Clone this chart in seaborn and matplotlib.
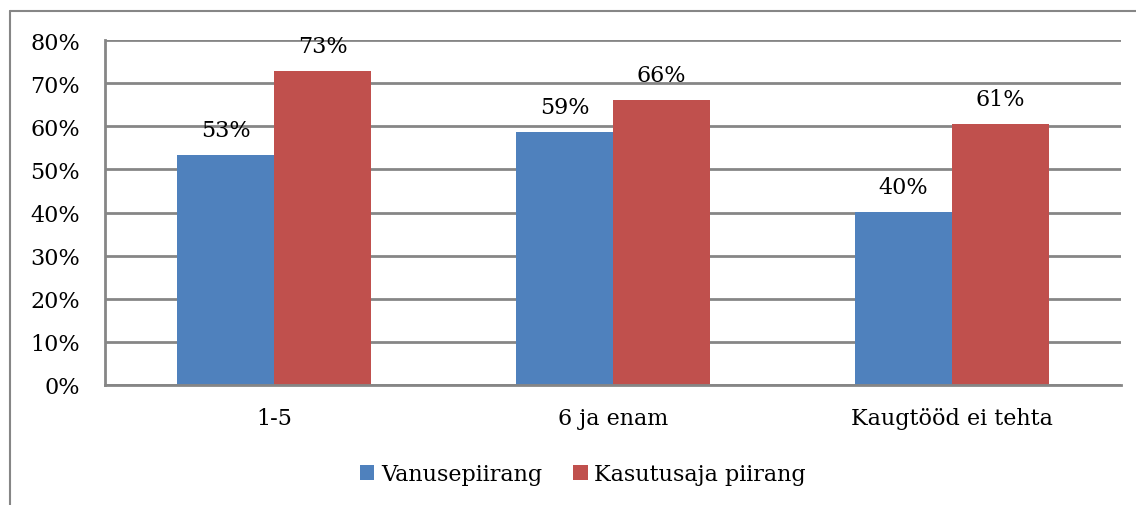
import pandas as pd
import matplotlib.pyplot as plt
import seaborn as sns
from matplotlib.lines import Line2D
from matplotlib.patches import Patch
from matplotlib.ticker import PercentFormatter

# ==========================================
# Data
# ==========================================

categories = ["1-5", "6 ja enam", "Kaugtööd ei tehta"]
series_names = ["Vanusepiirang", "Kasutusaja piirang"]
vanusepiirang = [0.534, 0.587, 0.401]
kasutusaja = [0.728, 0.661, 0.606]
label_text = [["53%", "59%", "40%"], ["73%", "66%", "61%"]]

colors = ["#4F81BD", "#C0504D"]
grid_gray = "#868686"

df = pd.DataFrame({
    "kategooria": categories * 2,
    "seeria": [series_names[0]] * 3 + [series_names[1]] * 3,
    "vaartus": vanusepiirang + kasutusaja,
})

# ==========================================
# Plot
# ==========================================

sns.set_style("white")
plt.rcParams["font.family"] = ["DejaVu Serif"]
plt.rcParams["text.color"] = "black"
plt.rcParams["xtick.color"] = "black"
plt.rcParams["ytick.color"] = "black"

fig = plt.figure(figsize=(11.36, 5.06), dpi=100)
ax = fig.add_axes([105 / 1136, 1 - 386 / 506, (1121 - 105) / 1136, (386 - 41) / 506])

sns.barplot(
    data=df,
    x="kategooria",
    y="vaartus",
    hue="seeria",
    palette=colors,
    width=0.572,
    saturation=1,
    legend=False,
    ax=ax,
)

for bar in ax.patches:
    bar.set_edgecolor("none")

for i, cont in enumerate(ax.containers):
    ax.bar_label(cont, labels=label_text[i], padding=10, fontsize=16)

ax.set_ylim(0, 0.8)
ax.set_xlim(-0.5, 2.5)
ax.set_yticks([i / 10 for i in range(9)])
ax.yaxis.set_major_formatter(PercentFormatter(1.0, decimals=0))
ax.set_xticks([0, 1, 2])
ax.set_xticks([-0.5, 0.5, 1.5, 2.5], minor=True)
ax.tick_params(axis="x", which="major", length=0, pad=16, labelsize=16)
ax.tick_params(axis="x", which="minor", length=8, width=2, color=grid_gray)
ax.tick_params(axis="y", length=8, width=2, color=grid_gray, labelsize=16, pad=10)
ax.set_xlabel("")
ax.set_ylabel("")

ax.yaxis.grid(True, color=grid_gray, linewidth=2)
ax.set_axisbelow(True)
for side in ["top", "right"]:
    ax.spines[side].set_visible(False)
for side in ["left", "bottom"]:
    ax.spines[side].set_color(grid_gray)
    ax.spines[side].set_linewidth(2)

handles = [Patch(facecolor=c, edgecolor="none") for c in colors]
fig.legend(
    handles,
    series_names,
    loc="center",
    bbox_to_anchor=(583 / 1136, 1 - 475 / 506),
    ncol=2,
    frameon=False,
    fontsize=16,
    handlelength=0.65,
    handleheight=0.65,
    handletextpad=0.3,
    columnspacing=1.4,
)

# chart area border (left and top edges)
fig.add_artist(Line2D([10 / 1136, 10 / 1136], [0, 1 - 12 / 506], color=grid_gray, linewidth=1.5))
fig.add_artist(Line2D([10 / 1136, 1], [1 - 12 / 506, 1 - 12 / 506], color=grid_gray, linewidth=1.5))

plt.savefig("out.png", dpi=100)
